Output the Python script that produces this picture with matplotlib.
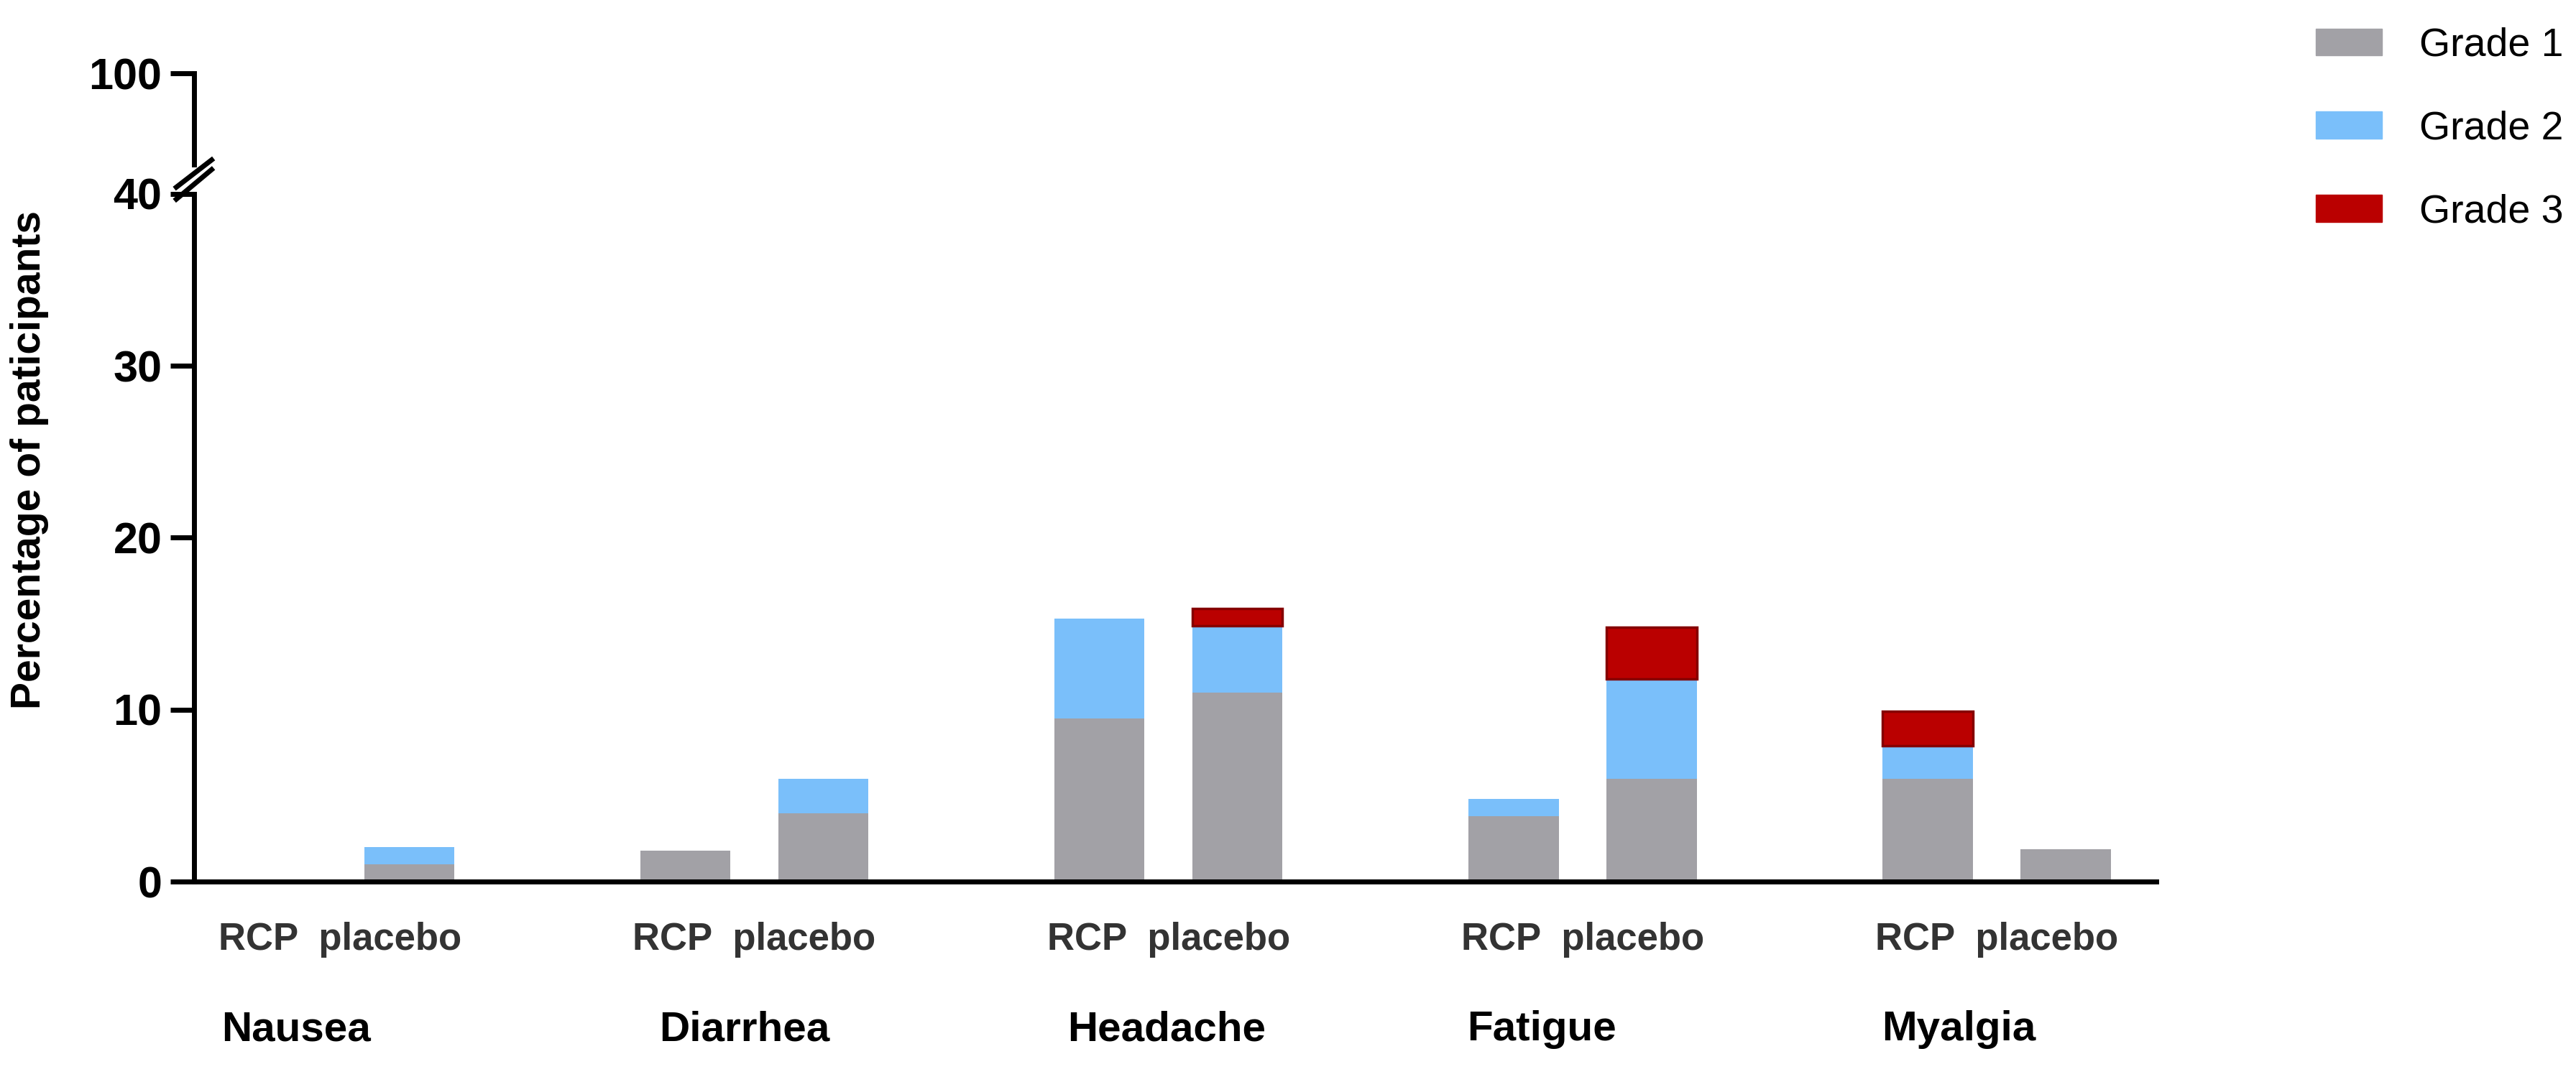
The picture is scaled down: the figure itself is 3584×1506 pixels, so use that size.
import matplotlib
matplotlib.use('Agg')
import matplotlib.pyplot as plt
import numpy as np

plt.rcParams['font.family'] = ['Liberation Sans', 'DejaVu Sans']

# data (percent of participants)
symptoms = ["Nausea", "Diarrhea", "Headache", "Fatigue", "Myalgia"]
arms = ["RCP", "placebo"]
grade1_rcp = [0, 1.8, 9.5, 3.8, 6.0]
grade2_rcp = [0, 0, 5.8, 1.0, 1.9]
grade3_rcp = [0, 0, 0, 0, 2.0]
grade1_pla = [1.0, 4.0, 11.0, 6.0, 1.9]
grade2_pla = [1.0, 2.0, 3.9, 5.8, 0]
grade3_pla = [0, 0, 1.0, 3.0, 0]
grade_labels = ["Grade 1", "Grade 2", "Grade 3"]
colors = ["#A2A1A6", "#7ABFFA", "#BA0000"]

fig = plt.figure(figsize=(35.84, 15.06), dpi=100)
ax = fig.add_axes([0.0753, 0.185, 0.837 - 0.0753, 0.821 - 0.185])
ax_top = fig.add_axes([0.0753, 0.848, 0.837 - 0.0753, 0.932 - 0.848])

x = np.arange(len(symptoms))
off = 0.1667
w = 0.218

rcp = [grade1_rcp, grade2_rcp, grade3_rcp]
pla = [grade1_pla, grade2_pla, grade3_pla]
for pos, stack in [(x - off, rcp), (x + off, pla)]:
    bottom = np.zeros(len(symptoms))
    for i, vals in enumerate(stack):
        vals = np.array(vals)
        if i == 2:
            lw = [2.5 if v > 0 else 0 for v in vals]
            ax.bar(pos, vals, w, bottom=bottom, color=colors[i], edgecolor="#850000", linewidth=lw)
        else:
            ax.bar(pos, vals, w, bottom=bottom, color=colors[i], linewidth=0)
        bottom = bottom + vals

ax.set_xlim(-0.353, 4.385)
ax.set_ylim(0, 40)
ax.set_yticks([0, 10, 20, 30, 40])
ax.set_xticks(x)
ax.set_xticklabels([arms[0] + "  " + arms[1]] * len(symptoms), fontsize=38,
                   fontweight='bold', color='#333333')
ax.tick_params(axis='x', length=0, pad=40)
ax.tick_params(axis='y', length=24, width=5, labelsize=44, pad=8)
for lab in ax.get_yticklabels():
    lab.set_fontweight('bold')
for s in ['top', 'right']:
    ax.spines[s].set_visible(False)
ax.spines['left'].set_linewidth(5)
ax.spines['bottom'].set_linewidth(5)

# category names under each pair, nudged like the original
name_shift = [-0.107, -0.024, -0.004, -0.099, -0.091]
for i, name in enumerate(symptoms):
    ax.text(x[i] + name_shift[i], -0.215, name, transform=ax.get_xaxis_transform(),
            ha='center', va='center', fontsize=42, fontweight='bold')

fig.text(0.0115, 0.575, "Percentage of paticipants", rotation=90, ha='center', va='center',
         fontsize=41, fontweight='bold')

# upper segment of the broken axis
ax_top.set_xlim(ax.get_xlim())
ax_top.set_ylim(94, 100)
ax_top.set_yticks([100])
ax_top.set_xticks([])
ax_top.tick_params(axis='y', length=24, width=5, labelsize=44, pad=8)
for lab in ax_top.get_yticklabels():
    lab.set_fontweight('bold')
for s in ['top', 'right', 'bottom']:
    ax_top.spines[s].set_visible(False)
ax_top.spines['left'].set_linewidth(5)
ax_top.patch.set_alpha(0)

# break marks
dx = 0.009
ax.plot([-dx, dx], [0.992, 1.035], transform=ax.transAxes, color='k', lw=5, clip_on=False)
ax_top.plot([-dx, dx], [-0.25, 0.05], transform=ax_top.transAxes, color='k', lw=5, clip_on=False)

handles = [plt.Rectangle((0, 0), 1, 1, color=c) for c in colors]
fig.legend(handles, grade_labels, loc='upper left', bbox_to_anchor=(0.885, 1.008),
           frameon=False, prop={'family': 'Liberation Sans', 'size': 40},
           handlelength=1.65, handleheight=0.67, labelspacing=1.15, handletextpad=0.95)

fig.savefig("out.png", dpi=100)
